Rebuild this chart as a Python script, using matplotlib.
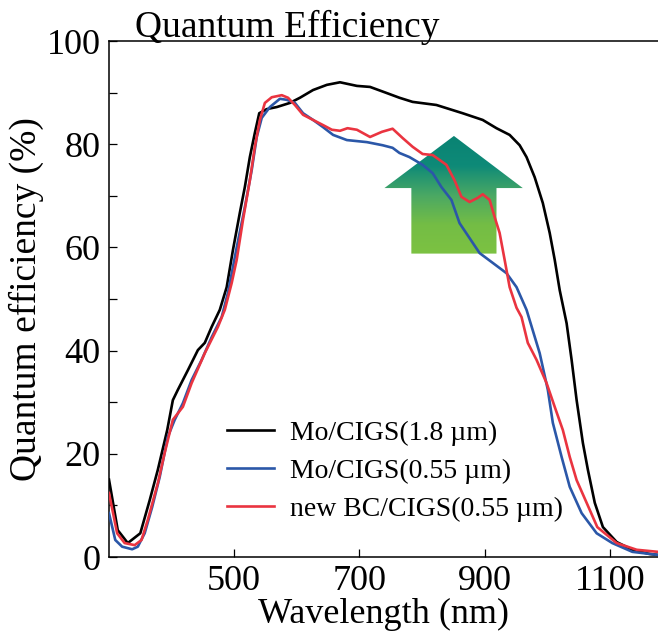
"""
Quantum efficiency spectra of CIGS cells (Mo back contact vs new back contact).
"""

import numpy as np
import matplotlib
matplotlib.use("Agg")
import matplotlib.pyplot as plt
from matplotlib.colors import LinearSegmentedColormap
from matplotlib.patches import Polygon


# Mo/CIGS (1.8 um)
BLACK_WL = [300, 314, 330, 350, 365, 378, 393, 402, 410, 426, 442, 453, 464, 477,
            488, 498, 509, 517, 525, 533, 540, 552, 568, 589, 605, 626, 648, 669,
            696, 717, 744, 764, 785, 823, 865, 897, 919, 940, 956, 967, 980, 993,
            1004, 1012, 1020, 1031, 1039, 1047, 1057, 1065, 1076, 1089, 1111,
            1136, 1163, 1177]
BLACK_QE = [15.0, 5.2, 2.7, 4.6, 11.0, 16.9, 24.6, 30.4, 32.4, 36.2, 40.1, 41.5,
            44.6, 47.9, 52.3, 59.5, 66.7, 71.7, 77.5, 82.2, 86.0, 86.8, 87.2,
            88.0, 89.0, 90.5, 91.5, 92.0, 91.3, 91.1, 89.9, 89.0, 88.2, 87.6,
            86.0, 84.7, 83.1, 81.8, 79.8, 77.5, 73.6, 68.6, 62.8, 57.6, 51.7,
            45.3, 38.2, 30.4, 22.1, 16.9, 10.5, 5.8, 2.9, 1.4, 0.6, 0.4]

# Mo/CIGS (0.55 um)
BLUE_WL = [300, 310, 321, 337, 346, 357, 369, 381, 394, 405, 418, 432, 448, 464,
           480, 490, 504, 517, 528, 536, 544, 557, 573, 584, 597, 610, 626, 642,
           658, 680, 712, 737, 753, 764, 780, 801, 817, 831, 847, 860, 876, 892,
           913, 935, 951, 967, 988, 1001, 1009, 1023, 1036, 1055, 1079, 1104,
           1136, 1177]
BLUE_QE = [8.5, 3.3, 2.0, 1.5, 2.0, 4.6, 9.7, 15.5, 23.3, 26.6, 29.8, 34.3, 38.2,
           42.6, 46.5, 51.2, 60.0, 67.8, 75.0, 81.4, 85.1, 87.2, 88.8, 88.6,
           88.0, 86.0, 84.7, 83.3, 81.8, 80.8, 80.4, 79.8, 79.3, 78.3, 77.5,
           76.0, 74.4, 71.7, 69.2, 64.7, 61.8, 58.9, 57.0, 55.0, 52.3, 47.9,
           39.5, 32.4, 26.0, 19.4, 13.6, 8.5, 4.6, 2.7, 1.0, 0.4]

# new BC/CIGS (0.55 um)
RED_WL = [300, 313, 325, 341, 352, 362, 378, 389, 402, 418, 432, 453, 474, 485,
          496, 504, 514, 525, 533, 541, 549, 560, 576, 586, 597, 610, 626, 642,
          656, 669, 681, 696, 717, 736, 753, 769, 785, 801, 817, 839, 852, 863,
          876, 889, 897, 908, 916, 924, 932, 940, 951, 959, 969, 983, 999, 1012,
          1025, 1036, 1047, 1063, 1080, 1111, 1143, 1177]
RED_QE = [12.4, 4.6, 2.7, 2.3, 3.3, 7.2, 14.3, 20.2, 26.6, 29.1, 33.7, 39.5, 44.6,
          47.9, 53.1, 57.6, 65.3, 73.0, 79.5, 84.7, 88.0, 89.1, 89.5, 89.0,
          87.6, 85.7, 84.7, 83.7, 82.8, 82.6, 83.1, 82.8, 81.4, 82.4, 83.0,
          81.2, 79.5, 78.1, 77.9, 76.0, 73.0, 69.8, 68.8, 69.6, 70.3, 69.2,
          65.9, 62.8, 57.6, 52.3, 48.3, 46.5, 41.5, 38.2, 33.7, 29.1, 24.6,
          19.4, 14.9, 10.5, 5.8, 2.7, 1.4, 1.0]

LABELS = ["Mo/CIGS(1.8 \u00b5m)", "Mo/CIGS(0.55 \u00b5m)", "new BC/CIGS(0.55 \u00b5m)"]
COLORS = ["#000000", "#2b57a8", "#ea3440"]

X_TICKS = [500, 700, 900, 1100]
Y_TICKS = [0, 20, 40, 60, 80, 100]

# up-arrow outline (wavelength, QE)
ARROW_X = [851, 961, 919, 919, 783, 783, 740]
ARROW_Y = [81.6, 71.5, 71.5, 58.8, 58.8, 71.5, 71.5]


def main() -> None:
    plt.rcParams["font.family"] = ["Liberation Serif", "DejaVu Serif"]

    fig = plt.figure(figsize=(6.58, 6.34), dpi=100)
    ax = fig.add_axes([109 / 658, 77 / 634, 1.0 - 109 / 658, 516 / 634])

    # gradient arrow
    cmap = LinearSegmentedColormap.from_list(
        "arrow", ["#0a8373", "#0e8a78", "#4aa864", "#74bd45", "#7cc242"])
    grad = np.linspace(0, 1, 256).reshape(-1, 1)
    poly = Polygon(list(zip(ARROW_X, ARROW_Y)), closed=True, facecolor="none",
                   edgecolor="none", transform=ax.transData)
    ax.add_patch(poly)
    im = ax.imshow(grad, extent=[min(ARROW_X), max(ARROW_X), min(ARROW_Y), max(ARROW_Y)],
                   origin="upper", aspect="auto", cmap=cmap, zorder=1)
    im.set_clip_path(poly)

    series = [(BLACK_WL, BLACK_QE), (BLUE_WL, BLUE_QE), (RED_WL, RED_QE)]
    for (wl, qe), label, color in zip(series, LABELS, COLORS):
        ax.plot(wl, qe, color=color, lw=1.9, label=label, zorder=3)

    ax.set_xlim(300, 1177)
    ax.set_ylim(0, 100)
    ax.set_xticks(X_TICKS)
    ax.set_yticks(Y_TICKS)
    ax.set_yticks(range(10, 100, 20), minor=True)
    ax.tick_params(axis="both", which="both", direction="in", length=6, width=0.9,
                   labelsize=26, pad=6)
    ax.spines["right"].set_visible(False)
    for s in ("left", "bottom", "top"):
        ax.spines[s].set_linewidth(1.1)

    ax.set_xlabel("Wavelength (nm)", fontsize=26, labelpad=0)
    ax.set_ylabel("Quantum efficiency (%)", fontsize=27, labelpad=2)
    fig.text(135 / 658, 1 - 37 / 634, "Quantum Efficiency", fontsize=27,
             ha="left", va="baseline")

    ax.legend(loc="lower left", bbox_to_anchor=(107 / 549, 24 / 516), frameon=False,
              fontsize=20, handlelength=1.7, handletextpad=0.55, labelspacing=0.45,
              borderaxespad=0)

    fig.savefig("out.png", dpi=100)


if __name__ == "__main__":
    main()
